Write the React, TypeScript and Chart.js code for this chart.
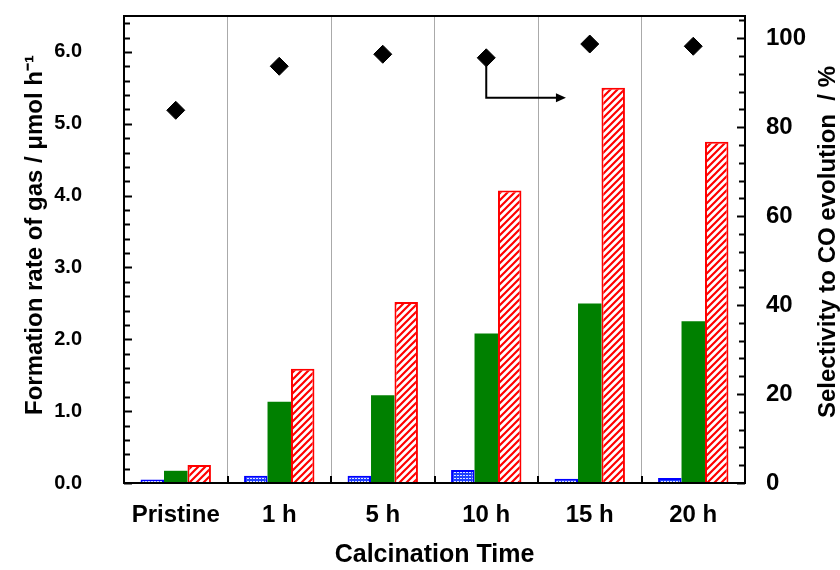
import React, { useEffect, useRef } from "react";
import { Chart, registerables } from "chart.js";

Chart.register(...registerables);

const categories = ["Pristine", "1 h", "5 h", "10 h", "15 h", "20 h"];
const h2Rate = [0.05, 0.1, 0.1, 0.18, 0.06, 0.07];
const o2Rate = [0.17, 1.13, 1.22, 2.08, 2.5, 2.25];
const coRate = [0.25, 1.59, 2.52, 4.07, 5.5, 4.75];
const coSelectivity = [83.8, 93.7, 96.4, 95.6, 98.7, 98.2];

const leftTicks = [0, 1, 2, 3, 4, 5, 6];
const rightTicks = [0, 20, 40, 60, 80, 100];
const leftMax = 6.5;
const rightMax = 105;
const leftMinorStep = 0.2;
const rightMinorStep = 4;

const leftTitle = "Formation rate of gas / μmol h⁻¹";
const rightTitle = "Selectivity to CO evolution  / %";
const xTitle = "Calcination Time";

// arrow annotation (data units): from 10 h diamond down to 86.6 %, then right
const arrowFromIndex = 3;
const arrowTurnValue = 86.6;
const arrowEndX = 3.77;

const FONT = "'Liberation Sans', Arial, sans-serif";

function makeHatch(): CanvasPattern | string {
  const s = 7;
  const c = document.createElement("canvas");
  c.width = s;
  c.height = s;
  const g = c.getContext("2d")!;
  g.fillStyle = "#ffffff";
  g.fillRect(0, 0, s, s);
  g.strokeStyle = "#ff0000";
  g.lineWidth = 2.2;
  g.beginPath();
  g.moveTo(-1, 1);
  g.lineTo(1, -1);
  g.moveTo(0, s);
  g.lineTo(s, 0);
  g.moveTo(s - 1, s + 1);
  g.lineTo(s + 1, s - 1);
  g.stroke();
  return g.createPattern(c, "repeat") || "#ff0000";
}

function makeDots(): CanvasPattern | string {
  const s = 3;
  const c = document.createElement("canvas");
  c.width = s;
  c.height = s;
  const g = c.getContext("2d")!;
  g.fillStyle = "#2040ff";
  g.fillRect(0, 0, s, s);
  g.fillStyle = "#dfe4ff";
  g.fillRect(1, 1, 2, 1);
  return g.createPattern(c, "repeat") || "#0000ff";
}

const noPad = (s: any) => {
  s.paddingTop = 0;
  s.paddingBottom = 0;
  s.paddingLeft = 0;
  s.paddingRight = 0;
};

const decor = {
  id: "decor",
  beforeDraw(chart: any) {
    const ctx = chart.ctx;
    ctx.save();
    ctx.fillStyle = "#ffffff";
    ctx.fillRect(0, 0, chart.width, chart.height);
    ctx.restore();
  },
  afterDraw(chart: any) {
    const { ctx, chartArea: a, scales } = chart;
    const x = scales.x;
    const y = scales.y;
    const y1 = scales.y1;
    ctx.save();
    ctx.strokeStyle = "#000";
    ctx.lineWidth = 2;
    // left minor/major ticks (inward)
    for (let i = 0; i * leftMinorStep <= leftMax + 1e-9; i++) {
      const v = i * leftMinorStep;
      const py = Math.round(y.getPixelForValue(v)) + 0.5;
      const major = Math.abs(v - Math.round(v)) < 1e-6;
      ctx.beginPath();
      ctx.moveTo(a.left, py);
      ctx.lineTo(a.left + (major ? 8 : 6), py);
      ctx.stroke();
    }
    // right ticks (inward)
    for (let i = 0; i * rightMinorStep <= rightMax + 1e-9; i++) {
      const v = i * rightMinorStep;
      const py = Math.round(y1.getPixelForValue(v)) + 0.5;
      const major = v % 20 === 0;
      ctx.beginPath();
      ctx.moveTo(a.right, py);
      ctx.lineTo(a.right - (major ? 8 : 6), py);
      ctx.stroke();
    }
    // x ticks at category boundaries
    for (let i = 1; i < categories.length; i++) {
      const px = Math.round((x.getPixelForValue(i - 1) + x.getPixelForValue(i)) / 2);
      ctx.beginPath();
      ctx.moveTo(px, a.bottom);
      ctx.lineTo(px, a.bottom - 7);
      ctx.stroke();
    }
    // frame
    ctx.strokeRect(a.left, a.top, a.right - a.left, a.bottom - a.top);

    // arrow
    const ax = x.getPixelForValue(arrowFromIndex);
    const ay0 = y1.getPixelForValue(coSelectivity[arrowFromIndex]) + 8;
    const ay1 = y1.getPixelForValue(arrowTurnValue);
    const ex = x.getPixelForValue(arrowEndX);
    ctx.lineWidth = 2;
    ctx.beginPath();
    ctx.moveTo(ax, ay0);
    ctx.lineTo(ax, ay1);
    ctx.lineTo(ex - 8, ay1);
    ctx.stroke();
    ctx.fillStyle = "#000";
    ctx.beginPath();
    ctx.moveTo(ex, ay1);
    ctx.lineTo(ex - 10, ay1 - 4.5);
    ctx.lineTo(ex - 10, ay1 + 4.5);
    ctx.closePath();
    ctx.fill();

    // titles
    ctx.fillStyle = "#000";
    ctx.font = `bold 24px ${FONT}`;
    ctx.textAlign = "center";
    ctx.textBaseline = "middle";
    ctx.save();
    ctx.translate(35, 235);
    ctx.rotate(-Math.PI / 2);
    ctx.fillText(leftTitle, 0, 0);
    ctx.restore();
    ctx.save();
    ctx.translate(828, 242);
    ctx.rotate(-Math.PI / 2);
    ctx.fillText(rightTitle, 0, 0);
    ctx.restore();
    ctx.font = `bold 25px ${FONT}`;
    ctx.fillText(xTitle, (a.left + a.right) / 2, 555);
    ctx.restore();
  },
};

export default function App() {
  const ref = useRef<HTMLCanvasElement | null>(null);
  useEffect(() => {
    if (!ref.current) return;
    Chart.defaults.color = "#000";
    const hatch = makeHatch();
    const dots = makeDots();
    const chart = new Chart(ref.current, {
      type: "bar",
      data: {
        labels: categories,
        datasets: [
          {
            label: "H₂",
            data: h2Rate,
            backgroundColor: dots as any,
            borderColor: "#0000ff",
            borderWidth: 2,
            yAxisID: "y",
            order: 2,
          },
          {
            label: "O₂",
            data: o2Rate,
            backgroundColor: "#008000",
            borderWidth: 0,
            yAxisID: "y",
            order: 2,
          },
          {
            label: "CO",
            data: coRate,
            backgroundColor: hatch as any,
            borderColor: "#ff0000",
            borderWidth: 2,
            yAxisID: "y",
            order: 2,
          },
          {
            type: "line",
            label: "CO selectivity",
            data: coSelectivity,
            yAxisID: "y1",
            showLine: false,
            pointStyle: "rectRot",
            pointRadius: 9,
            pointBackgroundColor: "#000",
            pointBorderColor: "#000",
            borderColor: "#000",
            backgroundColor: "#000",
            order: 1,
          } as any,
        ],
      },
      options: {
        responsive: false,
        animation: false,
        layout: { padding: { top: 16, left: 0, right: 0, bottom: 0 } },
        plugins: { legend: { display: false }, tooltip: { enabled: false } },
        datasets: { bar: { categoryPercentage: 0.68, barPercentage: 1 } } as any,
        scales: {
          x: {
            offset: true,
            grid: { offset: true, color: "#aaaaaa", lineWidth: 1, drawTicks: false },
            border: { display: false },
            ticks: { font: { family: FONT, size: 24, weight: "bold" }, padding: 18, color: "#000" },
            afterFit: (s: any) => {
              s.height = 87;
              noPad(s);
            },
          },
          y: {
            position: "left",
            min: 0,
            max: leftMax,
            grid: { display: false, drawTicks: false },
            border: { display: false },
            afterBuildTicks: (s: any) => {
              s.ticks = leftTicks.map((v) => ({ value: v }));
            },
            ticks: {
              font: { family: FONT, size: 20, weight: "bold" },
              padding: 42,
              color: "#000",
              callback: (v: any) => Number(v).toFixed(1),
            },
            afterFit: (s: any) => {
              s.width = 124;
              noPad(s);
            },
          },
          y1: {
            position: "right",
            min: 0,
            max: rightMax,
            grid: { display: false, drawTicks: false },
            border: { display: false },
            afterBuildTicks: (s: any) => {
              s.ticks = rightTicks.map((v) => ({ value: v }));
            },
            ticks: {
              font: { family: FONT, size: 24, weight: "bold" },
              padding: 21,
              color: "#000",
              callback: (v: any) => String(v),
            },
            afterFit: (s: any) => {
              s.width = 95;
              noPad(s);
            },
          },
        },
      },
      plugins: [decor],
    });
    return () => chart.destroy();
  }, []);
  return (
    <div style={{ position: "absolute", left: 0, top: 0, width: 840, height: 570 }}>
      <canvas ref={ref} width={840} height={570} style={{ display: "block" }} />
    </div>
  );
}
